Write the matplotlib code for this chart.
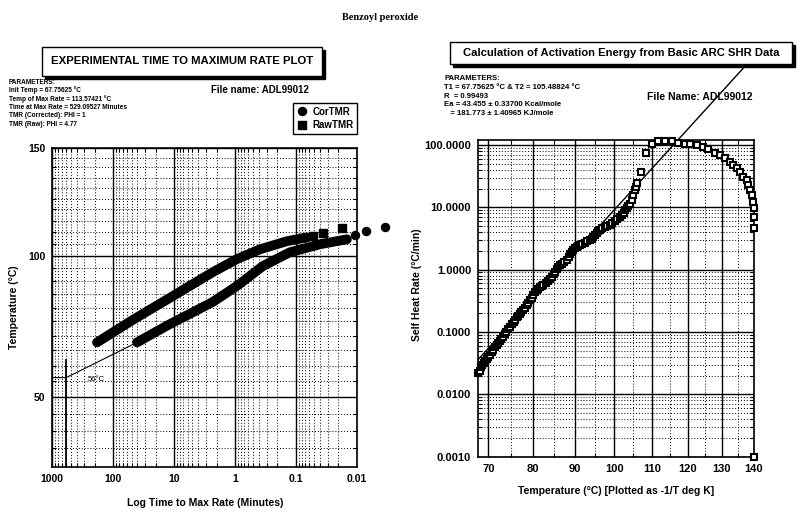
import numpy as np
import matplotlib
matplotlib.use('Agg')
import matplotlib.pyplot as plt
from matplotlib.ticker import FixedLocator, LogLocator, NullFormatter
from matplotlib.patches import Rectangle

plt.rcParams['font.family'] = ['Liberation Sans', 'DejaVu Sans']

# ---------------- data: left panel (time to maximum rate) ----------------
raw_band_time = [184.5, 47.3, 10.4, 2.30, 0.927, 0.389, 0.140, 0.0658]
raw_band_temp = [67.7, 75.6, 84.3, 93.5, 98.7, 102.7, 106.1, 107.7]
raw_tail_time = [0.0524, 0.0359, 0.0175]
raw_tail_temp = [108.2, 109.4, 111.6]
cor_band_time = [40.6, 13.1, 2.30, 0.927, 0.347, 0.125, 0.0402, 0.0145]
cor_band_temp = [67.7, 73.5, 82.1, 88.1, 95.9, 101.5, 104.8, 106.9]
cor_tail_time = [0.0107, 0.00706, 0.00344]
cor_tail_temp = [108.6, 110.3, 112.0]
extrap_time = [1000, 590, 40.6]
extrap_temp = [56.1, 56.1, 67.7]
mark_time = [590, 590]
mark_temp = [30, 61.8]
left_xticks = [1000, 100, 10, 1, 0.1, 0.01]
left_xlabels = ['1000', '100', '10', '1', '0.1', '0.01']
left_yticks = [50, 100, 150]

# ---------------- data: right panel (self heat rate) ----------------
shr_temp = [67.8, 68.1, 68.4, 68.7, 69.0, 69.3, 69.7, 70.0, 70.4, 70.7, 71.1, 71.4,
            71.8, 72.2, 72.6, 72.9, 73.3, 73.7, 74.0, 74.4, 74.8, 75.2, 75.6, 75.9,
            76.3, 76.7, 77.0, 77.4, 77.8, 78.2, 78.6, 79.0, 79.4, 79.8, 80.1, 80.5,
            80.9, 81.3, 81.7, 82.1, 82.5, 83.0, 83.5, 84.0, 84.5, 84.9, 85.2, 85.6,
            86.0, 86.5, 87.0, 87.5, 88.1, 88.5, 88.9, 89.3, 89.7, 90.1, 90.5, 90.9,
            91.3, 91.9, 92.5, 93.1, 93.8, 94.2, 94.6, 95.0, 95.5, 95.9, 96.3, 96.9,
            97.5, 98.2, 98.9, 99.5, 100.2, 100.8, 101.5, 101.9, 102.4, 102.8, 103.2,
            103.6, 104.0, 104.5, 105.0, 105.4, 105.7, 106.0,
            107.0, 108.3, 109.9, 111.6, 113.6, 115.4, 117.2, 119.2, 120.7, 122.6, 124.4,
            125.9, 128.0, 129.5, 131.0, 132.5, 133.4, 134.6, 135.6, 136.5, 137.7, 138.1,
            138.7, 139.3, 139.7, 139.95, 140.0, 140.0, 140.0]
shr_rate = [0.0218, 0.024, 0.027, 0.030, 0.032, 0.034, 0.037, 0.040, 0.043, 0.047,
            0.052, 0.057, 0.062, 0.067, 0.072, 0.078, 0.084, 0.092, 0.100, 0.110,
            0.122, 0.133, 0.145, 0.158, 0.172, 0.183, 0.195, 0.210, 0.226, 0.247,
            0.27, 0.297, 0.326, 0.357, 0.39, 0.43, 0.472, 0.495, 0.52, 0.545, 0.568,
            0.61, 0.66, 0.71, 0.771, 0.84, 0.92, 1.01, 1.116, 1.18, 1.25, 1.33, 1.43,
            1.58, 1.75, 1.9, 2.07, 2.2, 2.3, 2.4, 2.49, 2.6, 2.7, 2.83, 2.99, 3.15,
            3.3, 3.55, 3.83, 4.1, 4.33, 4.6, 4.9, 5.05, 5.21, 5.6, 6.0, 6.5, 7.08,
            7.6, 8.2, 8.9, 9.76, 10.6, 11.5, 13.1, 16.0, 19.0, 21.5, 24.9,
            37.3, 73.6, 104, 116, 116, 116, 109, 104, 104, 100, 91.9, 85.3, 75.2, 69.2,
            61.8, 54.0, 47.8, 42.3, 37.3, 31.0, 27.5, 22.8, 19.0, 15.8, 12.3, 9.76, 7.08,
            4.61, 0.001]
fit_temp = [67.756, 136.6]
fit_rate = [0.036, 1698]
right_xticks = [70, 80, 90, 100, 110, 120, 130, 140]
right_yticks = [100, 10, 1, 0.1, 0.01, 0.001]
right_ylabels = ['100.0000', '10.0000', '1.0000', '0.1000', '0.0100', '0.0010']

W, H = 800, 516
fig = plt.figure(figsize=(8, 5.16), dpi=100)


def fx(x):
    return x / W


def fy(y):
    return 1 - y / H


def fwd(t):
    t = np.asarray(t, float)
    with np.errstate(divide='ignore', invalid='ignore'):
        return -1.0 / (t + 273.15)


def inv(v):
    v = np.asarray(v, float)
    with np.errstate(divide='ignore', invalid='ignore'):
        return -1.0 / v - 273.15


dot = (0, (1, 2))

# ---------------- left axes ----------------
axL = fig.add_axes([fx(52.3), fy(466.7), (356.7 - 52.3) / W, (466.7 - 148) / H])
axL.set_xscale('log')
axL.set_yscale('function', functions=(fwd, inv))
axL.set_xlim(1000, 0.01)
axL.set_ylim(30, 150)
axL.set_xticks(left_xticks, left_xlabels)
axL.xaxis.set_minor_locator(LogLocator(base=10, subs=np.arange(2, 10), numticks=100))
axL.xaxis.set_minor_formatter(NullFormatter())
axL.yaxis.set_major_locator(FixedLocator(left_yticks))
axL.set_yticklabels([str(v) for v in left_yticks])
axL.yaxis.set_minor_locator(FixedLocator(np.arange(35, 150, 5)))
axL.yaxis.set_minor_formatter(NullFormatter())
axL.grid(which='major', color='k', lw=1.0, ls='-')
axL.grid(which='minor', color='k', lw=0.7, ls=dot)
axL.set_axisbelow(True)
axL.tick_params(which='both', direction='in', top=True, right=True, colors='k')
axL.tick_params(which='major', length=0, labelsize=7.5, pad=5)
axL.tick_params(which='minor', length=3, width=0.8)
for lab in axL.get_xticklabels() + axL.get_yticklabels():
    lab.set_fontweight('bold')
for s in axL.spines.values():
    s.set_linewidth(1.2)

axL.plot(extrap_time, extrap_temp, color='k', lw=0.8, zorder=3)
axL.plot(mark_time, mark_temp, color='k', lw=1.3, zorder=3)
axL.text(260, 55.4, '56°C', fontsize=5.5, va='center', ha='left', zorder=4)
axL.plot(raw_band_time, raw_band_temp, color='k', lw=7.0, solid_capstyle='round',
         solid_joinstyle='round', zorder=4)
axL.plot(cor_band_time, cor_band_temp, color='k', lw=7.0, solid_capstyle='round',
         solid_joinstyle='round', zorder=4)
raw_h, = axL.plot(raw_tail_time, raw_tail_temp, ls='none', marker='s', ms=5.5, color='k',
                  clip_on=False, zorder=4)
cor_h, = axL.plot(cor_tail_time, cor_tail_temp, ls='none', marker='o', ms=5.8, color='k',
                  clip_on=False, zorder=4)

fig.text(fx(14), fy(307), 'Temperature (°C)', rotation=90, ha='center', va='center',
         fontsize=7.5, fontweight='bold')
fig.text(fx(205), fy(503), 'Log Time to Max Rate (Minutes)', ha='center', va='center',
         fontsize=7.5, fontweight='bold')

# ---------------- right axes ----------------
axR = fig.add_axes([fx(478), fy(456.7), (754 - 478) / W, (456.7 - 140) / H])
axR.set_xscale('function', functions=(fwd, inv))
axR.set_yscale('log')
axR.set_xlim(67.756, 140)
axR.set_ylim(0.001, 120)
axR.xaxis.set_major_locator(FixedLocator(right_xticks))
axR.set_xticklabels([str(v) for v in right_xticks])
axR.xaxis.set_minor_locator(FixedLocator(np.arange(75, 140, 10)))
axR.xaxis.set_minor_formatter(NullFormatter())
axR.yaxis.set_major_locator(FixedLocator(right_yticks))
axR.set_yticklabels(right_ylabels)
axR.yaxis.set_minor_locator(LogLocator(base=10, subs=np.arange(2, 10), numticks=100))
axR.yaxis.set_minor_formatter(NullFormatter())
axR.grid(which='major', color='k', lw=1.0, ls='-')
axR.grid(which='minor', color='k', lw=0.7, ls=dot)
axR.set_axisbelow(True)
axR.tick_params(which='both', direction='in', top=True, right=True, colors='k')
axR.tick_params(which='major', length=0, labelsize=8, pad=5)
axR.tick_params(which='minor', length=3, width=0.8)
for lab in axR.get_xticklabels() + axR.get_yticklabels():
    lab.set_fontweight('bold')
for s in axR.spines.values():
    s.set_linewidth(1.2)

axR.plot(fit_temp, fit_rate, color='k', lw=1.0, clip_on=False, zorder=3)
axR.plot(shr_temp, shr_rate, ls='none', marker='s', ms=4.9, mfc='white', mec='k',
         mew=1.5, clip_on=False, zorder=4)

fig.text(fx(417), fy(285), 'Self Heat Rate (°C/min)', rotation=90, ha='center', va='center',
         fontsize=7.5, fontweight='bold')
fig.text(fx(616), fy(491), 'Temperature (°C) [Plotted as -1/T deg K]', ha='center',
         va='center', fontsize=7.5, fontweight='bold')

# ---------------- header / annotation texts ----------------
fig.text(fx(380), fy(18), 'Benzoyl peroxide', ha='center', va='center', fontsize=7.5,
         fontweight='bold', family=['Liberation Serif', 'DejaVu Serif'])


def title_box(x0, y0, x1, y1, text, size):
    sh = 3
    fig.add_artist(Rectangle((fx(x0 + sh), fy(y1 + sh)), (x1 - x0) / W, (y1 - y0) / H,
                             transform=fig.transFigure, facecolor='k', edgecolor='k',
                             zorder=5))
    fig.add_artist(Rectangle((fx(x0), fy(y1)), (x1 - x0) / W, (y1 - y0) / H,
                             transform=fig.transFigure, facecolor='white', edgecolor='k',
                             lw=1.0, zorder=6))
    fig.text(fx((x0 + x1) / 2), fy((y0 + y1) / 2), text, ha='center', va='center',
             fontsize=size, fontweight='bold', zorder=7)


title_box(42, 47, 322, 76, 'EXPERIMENTAL TIME TO MAXIMUM RATE PLOT', 8.2)
title_box(450, 42, 792, 64, 'Calculation of Activation Energy from Basic ARC SHR Data', 8.1)

left_params = ['PARAMETERS:', 'Init Temp = 67.75625 °C', 'Temp of Max Rate = 113.57421 °C',
               'Time at Max Rate = 529.09527 Minutes', 'TMR (Corrected): PHI = 1',
               'TMR (Raw): PHI = 4.77']
for i, s in enumerate(left_params):
    fig.text(fx(9), fy(82 + 8.4 * i), s, ha='left', va='center', fontsize=4.7,
             fontweight='bold')

right_params = ['PARAMETERS:', 'T1 = 67.75625 °C & T2 = 105.48824 °C', 'R  = 0.99493',
                'Ea = 43.455 ± 0.33700 Kcal/mole', '   = 181.773 ± 1.40965 KJ/mole']
for i, s in enumerate(right_params):
    fig.text(fx(444), fy(79 + 8.6 * i), s, ha='left', va='center', fontsize=5.6,
             fontweight='bold')

fig.text(fx(211), fy(90), 'File name: ADL99012', ha='left', va='center', fontsize=7,
         fontweight='bold')
fig.text(fx(647), fy(97), 'File Name: ADL99012', ha='left', va='center', fontsize=7.5,
         fontweight='bold')

fig.legend([cor_h, raw_h], ['CorTMR', 'RawTMR'], loc='upper left',
           bbox_to_anchor=(fx(293), fy(103)), frameon=True, fancybox=False,
           edgecolor='k', framealpha=1, borderpad=0.4, handlelength=1.0,
           handletextpad=0.6, labelspacing=0.35, borderaxespad=0,
           prop={'weight': 'bold', 'size': 7})

fig.savefig('out.png', dpi=100)
